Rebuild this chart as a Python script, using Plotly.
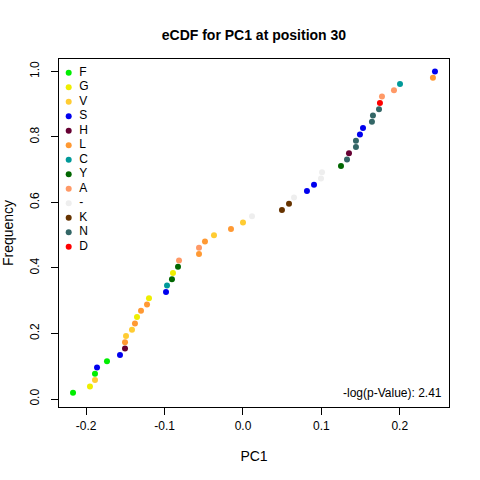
import numpy as np
import plotly.graph_objects as go

# PC1 values at position 30 (sorted) and the residue of each point
pc1 = [-0.2168, -0.1952, -0.1888, -0.1888, -0.1862, -0.1735, -0.1569, -0.1505,
       -0.1505, -0.1492, -0.1416, -0.1378, -0.1352, -0.1301, -0.1224, -0.1199,
       -0.0982, -0.0969, -0.0906, -0.0893, -0.0829, -0.0816, -0.0561, -0.0561,
       -0.0485, -0.0370, -0.0153, 0.0000, 0.0115, 0.0497, 0.0587, 0.0651,
       0.0816, 0.0906, 0.0995, 0.1008, 0.1250, 0.1327, 0.1352, 0.1441,
       0.1441, 0.1492, 0.1531, 0.1645, 0.1658, 0.1735, 0.1747, 0.1773,
       0.1926, 0.2003, 0.2423, 0.2449]
residue = ["F", "G", "V", "F", "S", "F", "S", "H", "L", "V", "V", "L", "G", "L",
           "L", "G", "S", "C", "Y", "G", "Y", "A", "L", "A", "L", "V", "L", "V",
           "-", "K", "K", "-", "S", "S", "-", "-", "Y", "N", "H", "N", "N", "S",
           "S", "N", "N", "N", "D", "A", "A", "C", "L", "S"]

legend_labels = ["F", "G", "V", "S", "H", "L", "C", "Y", "A", "-", "K", "N", "D"]
legend_colors = ["#00EE00", "#EEEE00", "#FFCC33", "#0000EE", "#660033", "#FF9933",
                 "#009999", "#006600", "#FF9966", "#EEEEEE", "#663300", "#336666",
                 "#FF0000"]
p_value_text = "-log(p-Value): 2.41"

color_of = dict(zip(legend_labels, legend_colors))
n = len(pc1)
freq = np.arange(1, n + 1) / n  # empirical CDF

font = "Liberation Sans, Arial, sans-serif"

fig = go.Figure()
fig.add_trace(go.Scatter(x=pc1, y=freq, mode="markers",
                         marker=dict(size=6, color=[color_of[r] for r in residue]),
                         showlegend=False, hoverinfo="skip"))
# legend drawn on its own small axis, like R's legend(bty="n")
fig.add_trace(go.Scatter(x=[0] * len(legend_labels), y=legend_labels, mode="markers+text",
                         text=["\u00a0\u2009" + s for s in legend_labels],
                         textposition="middle right", cliponaxis=False,
                         textfont=dict(size=12, color="black", family=font),
                         marker=dict(size=6, color=legend_colors),
                         xaxis="x2", yaxis="y2", showlegend=False, hoverinfo="skip"))

axis_style = dict(showline=True, linecolor="black", linewidth=1, mirror=True,
                  ticks="outside", ticklen=7, tickcolor="black", showgrid=False,
                  zeroline=False, automargin=False,
                  tickfont=dict(size=12, color="black", family=font))

fig.update_layout(
    width=480, height=480,
    margin=dict(l=59, r=31, t=59, b=73),
    paper_bgcolor="white", plot_bgcolor="rgba(0,0,0,0)",
    font=dict(family=font, size=12, color="black"),
    title=dict(text="<b>eCDF for PC1 at position 30</b>", x=0.529, xanchor="center",
               y=0.927, yanchor="middle", font=dict(size=14, family=font)),
    xaxis=dict(range=[-0.2347, 0.2628], tickvals=[-0.2, -0.1, 0.0, 0.1, 0.2],
               ticktext=["-0.2", "-0.1", "0.0", "0.1", "0.2"], ticklabelstandoff=1,
               title=dict(text="PC1", standoff=18), **axis_style),
    yaxis=dict(range=[-0.0244, 1.0378], tickvals=[0, 0.2, 0.4, 0.6, 0.8, 1.0],
               ticktext=["0.0", "0.2", "0.4", "0.6", "0.8", "1.0"], tickangle=-90,
               ticklabelstandoff=7, title=dict(text="Frequency", standoff=14), **axis_style),
    xaxis2=dict(domain=[0, 0.12], range=[-0.207, 0.793], visible=False, anchor="y2"),
    yaxis2=dict(domain=[0.4606, 0.9606], range=[12, 0], visible=False, anchor="x2",
                type="category", categoryorder="array", categoryarray=legend_labels),
    annotations=[dict(text=p_value_text, xref="paper", yref="paper", x=0.986, y=0.041,
                      xanchor="right", yanchor="middle", showarrow=False,
                      font=dict(size=12, family=font, color="black"))],
)

fig.write_html("out.html", config={"displayModeBar": False},
               post_script="document.body.style.margin='0';")
